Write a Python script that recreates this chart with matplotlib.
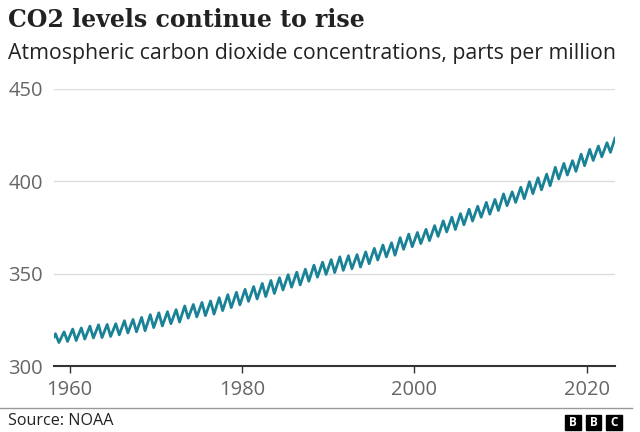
import matplotlib
matplotlib.use('Agg')
import matplotlib.pyplot as plt
from matplotlib.patches import Rectangle
from matplotlib.lines import Line2D

# Mauna Loa CO2 (ppm), seasonal highs (May) and lows (Sep/Oct)
years = list(range(1958, 2023))
may_high = [317.5, 318.5, 320.0, 320.6, 321.6, 322.3, 322.5, 322.9, 324.5, 325.2,
            326.3, 327.8, 328.8, 329.4, 330.5, 332.5, 333.3, 334.4, 335.2, 337.0,
            338.6, 339.9, 341.5, 343.0, 344.7, 346.3, 347.8, 349.4, 350.8, 352.4,
            354.6, 356.2, 357.6, 359.1, 359.7, 360.3, 361.8, 363.7, 365.5, 366.7,
            369.5, 371.4, 372.3, 374.0, 376.0, 378.6, 380.6, 382.5, 384.9, 386.5,
            388.6, 390.2, 393.2, 394.3, 396.8, 399.8, 401.9, 403.9, 407.6, 409.7,
            411.2, 414.7, 417.3, 419.1, 420.9]
autumn_low = [312.7, 313.3, 313.8, 314.6, 315.2, 315.4, 316.0, 316.9, 317.9, 318.5,
              319.1, 320.8, 321.7, 322.9, 323.8, 325.9, 326.6, 327.3, 328.1, 330.0,
              331.6, 333.1, 335.0, 336.3, 337.6, 339.3, 341.2, 342.7, 343.9, 345.9,
              348.1, 349.6, 350.6, 351.8, 352.7, 353.6, 355.4, 357.4, 359.1, 360.0,
              363.2, 364.6, 366.3, 367.9, 370.2, 372.6, 373.9, 376.5, 378.5, 380.6,
              382.2, 384.2, 386.8, 388.6, 390.6, 393.3, 395.4, 397.6, 401.3, 403.4,
              405.4, 408.5, 411.3, 413.3, 415.7]
first_point = (1958.2, 315.7)   # March 1958
last_point = (2023.3, 423.4)    # April 2023

x_ticks = [1960, 1980, 2000, 2020]
y_ticks = [300, 350, 400, 450]

t = [first_point[0]]
co2 = [first_point[1]]
for yr, hi, lo in zip(years, may_high, autumn_low):
    t += [yr + 0.37, yr + 0.77]
    co2 += [hi, lo]
t.append(last_point[0])
co2.append(last_point[1])

fig = plt.figure(figsize=(6.4, 4.32), dpi=100)
ax = fig.add_axes([54 / 640, 1 - 366 / 432, (615 - 54) / 640, (366 - 89) / 432])

ax.plot(t, co2, color='#1a8296', linewidth=2, solid_joinstyle='round')

ax.set_xlim(1958.2, 2023.3)
ax.set_ylim(300, 450)
ax.set_xticks(x_ticks)
ax.set_yticks(y_ticks)
ax.grid(axis='y', color='#dddddd', linewidth=1)
ax.set_axisbelow(True)
for s in ['top', 'right', 'left']:
    ax.spines[s].set_visible(False)
ax.spines['bottom'].set_color('#333333')
ax.spines['bottom'].set_linewidth(1.5)
ax.tick_params(axis='y', length=0, pad=8, labelsize=14.5, labelcolor='#666666')
ax.tick_params(axis='x', length=5, width=1, color='#333333', pad=5,
               labelsize=14.5, labelcolor='#666666')
for lab in ax.get_xticklabels() + ax.get_yticklabels():
    lab.set_family('Open Sans')

fig.text(8 / 640, 1 - 20 / 432, 'CO2 levels continue to rise', family='DejaVu Serif',
         fontsize=17, weight='bold', color='#222222', va='center', ha='left')
fig.text(8 / 640, 1 - 53 / 432, 'Atmospheric carbon dioxide concentrations, parts per million',
         family='Open Sans', fontsize=15.3, color='#222222', va='center', ha='left')

fig.add_artist(Line2D([0, 632 / 640], [1 - 408 / 432] * 2, color='#999999', linewidth=1))
fig.text(8 / 640, 1 - 421 / 432, 'Source: NOAA', family='Open Sans', fontsize=11.6,
         color='#222222', va='center', ha='left')

for i, letter in enumerate('BBC'):
    x0 = 565 + i * 20.7
    fig.add_artist(Rectangle((x0 / 640, 1 - 430 / 432), 15.5 / 640, 15.5 / 432,
                             transform=fig.transFigure, color='black'))
    fig.text((x0 + 7.75) / 640, 1 - 422 / 432, letter, family='Open Sans', fontsize=8.5,
             weight='bold', color='white', ha='center', va='center')

fig.savefig('out.png', dpi=100)
